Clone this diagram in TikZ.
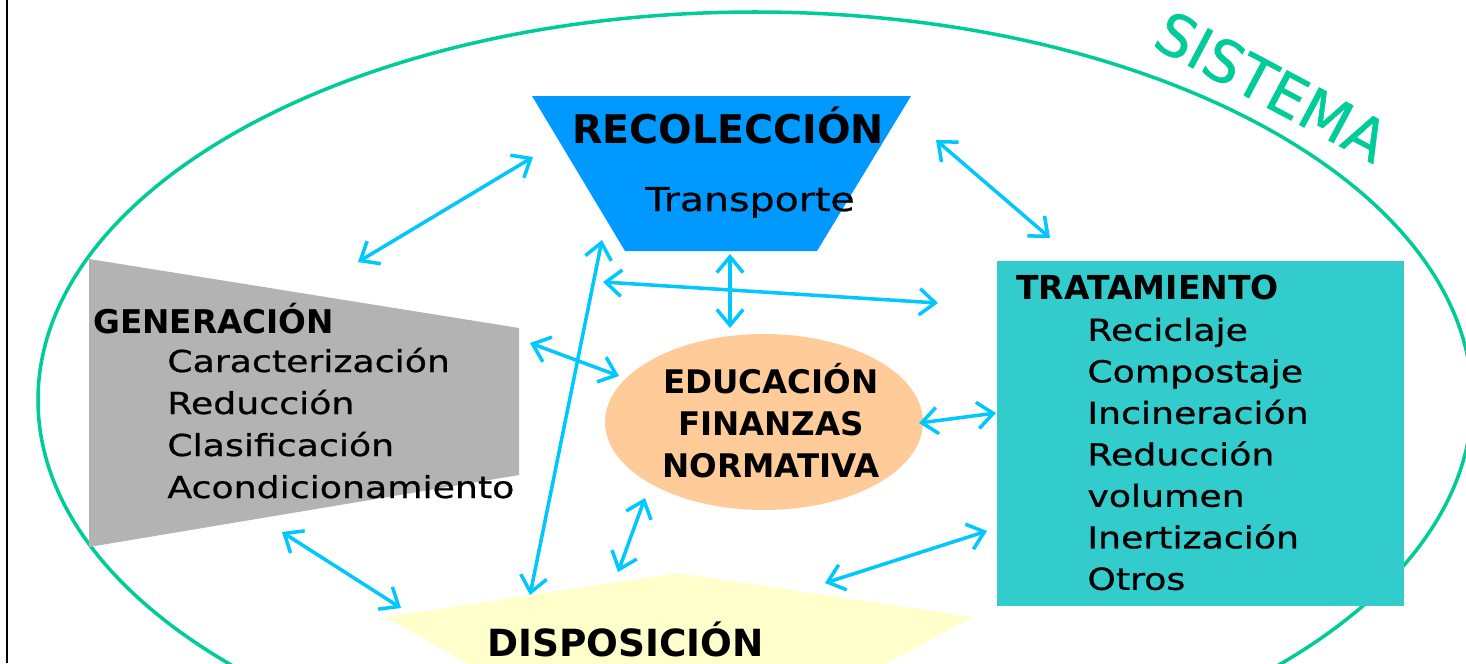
\documentclass[tikz,border=0pt]{standalone}
\usepackage{fontspec}
\setmainfont{DejaVu Sans}
\newfontfamily\listfont{DejaVu Sans}[FakeStretch=1.2, FakeBold=0.7]
\newfontfamily\sisfont{DejaVu Sans}[FakeBold=0.8]
\usetikzlibrary{arrows.meta, shapes.geometric}

\definecolor{arrowblue}{RGB}{0,200,255}
\definecolor{recblue}{RGB}{0,153,255}
\definecolor{gengray}{RGB}{179,179,179}
\definecolor{tratteal}{RGB}{51,204,204}
\definecolor{edupeach}{RGB}{255,204,153}
\definecolor{dispyellow}{RGB}{255,255,204}
\definecolor{sisgreen}{RGB}{0,204,153}

\tikzset{
  link/.style={draw=arrowblue, line width=2pt,
    {Straight Barb[length=9pt,width=15pt]}-{Straight Barb[length=9pt,width=15pt]}},
  head/.style={inner sep=0pt, anchor=base west, font=\bfseries\fontsize{#1}{#1}\selectfont},
  head/.default=18.7,
  item/.style={inner sep=0pt, anchor=base west, font=\listfont\fontsize{#1}{#1}\selectfont},
  item/.default=17.2,
  edutext/.style={inner sep=0pt, anchor=base, font=\bfseries\fontsize{18.5}{18.5}\selectfont}
}

\begin{document}
\begin{tikzpicture}[x=0.02cm, y=-0.02cm]
\useasboundingbox (0,0) rectangle (1466,663);
\fill[white] (0,0) rectangle (1466,663);
\draw[line width=1.2pt] (7,0)--(7,663);

\draw[sisgreen, line width=2pt] (755,400) ellipse [x radius=717, y radius=388];
\node[sisgreen, inner sep=0pt, anchor=base, rotate=-28, font=\sisfont\fontsize{33}{33}\selectfont] (sis) at (1262,105) {SISTEMA};

\fill[recblue] (532,96)--(911,96)--(817,251)--(625,251)--cycle;
\fill[gengray] (89,259)--(519,328)--(519,475)--(89,547)--cycle;
\fill[tratteal] (997,261) rectangle (1404,606);
\fill[dispyellow] (385,617)--(677,573)--(973,617)--(878,668)--(476,668)--cycle;
\node[ellipse, fill=edupeach, inner sep=0pt, minimum width=6.36cm, minimum height=3.52cm] (edu) at (764,422) {};

\node[head=22.5] (rec) at (572,143) {RECOLECCIÓN};
\node[item=18.7] (trans) at (645,211) {Transporte};

\node[head=18.6] (gen) at (93,333) {GENERACIÓN};
\foreach \t [count=\i] in {Caracterización, Reducción, Clasificación, Acondicionamiento}
  \node[item] (gen-\i) at (167,330+42*\i) {\t};

\node[head=18.8] (trat) at (1016,299) {TRATAMIENTO};
\foreach \t [count=\i] in {Reciclaje, Compostaje, Incineración, Reducción, volumen, Inertización, Otros}
  \node[item] (trat-\i) at (1087,299.3+41.5*\i) {\t};

\node[edutext] (edu-1) at (771,393) {EDUCACIÓN};
\node[edutext] (edu-2) at (771,435) {FINANZAS};
\node[edutext] (edu-3) at (771,477) {NORMATIVA};

\node[head=21.3] (disp) at (487,656) {DISPOSICIÓN};

\coordinate (rec-gen) at (533,157);
\coordinate (gen-rec) at (358,262);
\coordinate (rec-trat) at (936,140);
\coordinate (trat-rec) at (1050,238);
\coordinate (rec-edu) at (730,254);
\coordinate (edu-rec) at (730,328);
\coordinate (mid-w) at (603,282);
\coordinate (mid-e) at (938,303);
\coordinate (rec-disp) at (602,240);
\coordinate (disp-rec) at (530,595);
\coordinate (gen-edu) at (530,343);
\coordinate (edu-gen) at (619,376);
\coordinate (edu-trat) at (919,423);
\coordinate (trat-edu) at (996,413);
\coordinate (edu-disp) at (645,498);
\coordinate (disp-edu) at (618,572);
\coordinate (trat-disp) at (987,531);
\coordinate (disp-trat) at (825,583);
\coordinate (gen-disp) at (282,532);
\coordinate (disp-gen) at (401,608);

\draw[link] (rec-gen)--(gen-rec);
\draw[link] (rec-trat)--(trat-rec);
\draw[link] (rec-edu)--(edu-rec);
\draw[link] (mid-w)--(mid-e);
\draw[link] (rec-disp)--(disp-rec);
\draw[link] (gen-edu)--(edu-gen);
\draw[link] (edu-trat)--(trat-edu);
\draw[link] (edu-disp)--(disp-edu);
\draw[link] (trat-disp)--(disp-trat);
\draw[link] (gen-disp)--(disp-gen);
\end{tikzpicture}
\end{document}
